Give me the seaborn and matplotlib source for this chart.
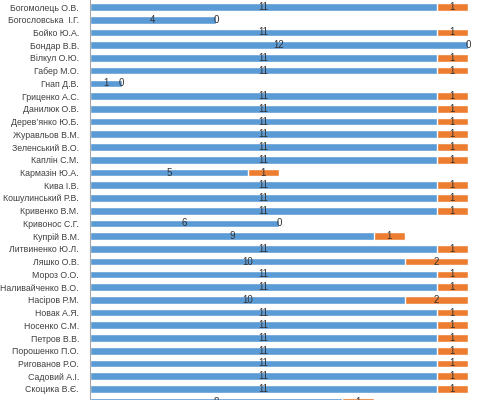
import pandas as pd
import matplotlib
matplotlib.use("Agg")
import matplotlib.pyplot as plt
import seaborn as sns

# =========================
# Data
# =========================

names = [
    "Богомолець О.В.", "Богословська  І.Г.", "Бойко Ю.А.", "Бондар В.В.",
    "Вілкул О.Ю.", "Габер М.О.", "Гнап Д.В.", "Гриценко А.С.",
    "Данилюк О.В.", "Дерев’янко Ю.Б.", "Журавльов В.М.", "Зеленський В.О.",
    "Каплін С.М.", "Кармазін Ю.А.", "Кива І.В.", "Кошулинський Р.В.",
    "Кривенко В.М.", "Кривонос С.Г.", "Купрій В.М.", "Литвиненко Ю.Л.",
    "Ляшко О.В.", "Мороз О.О.", "Наливайченко В.О.", "Насіров Р.М.",
    "Новак А.Я.", "Носенко С.М.", "Петров В.В.", "Порошенко П.О.",
    "Ригованов Р.О.", "Садовий А.І.", "Скоцика В.Є.", "Смешко І.П.",
]

blue_vals = [
    11, 4, 11, 12, 11, 11, 1, 11,
    11, 11, 11, 11, 11, 5, 11, 11,
    11, 6, 9, 11, 10, 11, 11, 10,
    11, 11, 11, 11, 11, 11, 11, 8,
]

orange_vals = [
    1, 0, 1, 0, 1, 1, 0, 1,
    1, 1, 1, 1, 1, 1, 1, 1,
    1, 0, 1, 1, 2, 1, 1, 2,
    1, 1, 1, 1, 1, 1, 1, 1,
]

BLUE = "#5B9BD5"
ORANGE = "#ED7D31"

df = pd.DataFrame({
    "name": names,
    "blue": blue_vals,
    "orange": orange_vals,
})
df["total"] = df["blue"] + df["orange"]


# =========================
# Plot
# =========================

sns.set_style("white")
plt.rcParams["font.family"] = ["Liberation Sans", "DejaVu Sans"]

fig = plt.figure(figsize=(5, 4), dpi=100)
ax = fig.add_axes([0.18, 0.0, 0.82, 1.0])

sns.barplot(
    data=df, x="total", y="name", color=ORANGE,
    width=0.6, saturation=1, ax=ax, order=names,
)
sns.barplot(
    data=df, x="blue", y="name", color=BLUE,
    width=0.6, saturation=1, ax=ax, order=names,
)

for i, row in df.iterrows():
    ax.text(
        row["blue"] / 2, i, str(row["blue"]),
        ha="center", va="center", fontsize=7, color="#333333",
    )
    ax.text(
        row["blue"] + row["orange"] / 2, i, str(row["orange"]),
        ha="center", va="center", fontsize=7, color="#333333",
    )

ax.set_xlim(0, 410 / 31.5)
ax.set_ylim(30.87, -0.55)

ax.set_xlabel("")
ax.set_ylabel("")
ax.set_xticks([])
ax.tick_params(axis="y", length=0, pad=8, labelsize=6.3, labelcolor="#404040")

for side in ["top", "right", "bottom"]:
    ax.spines[side].set_visible(False)
ax.spines["left"].set_color("#A6A6A6")
ax.spines["left"].set_linewidth(0.8)

fig.savefig("out.png", dpi=100)
